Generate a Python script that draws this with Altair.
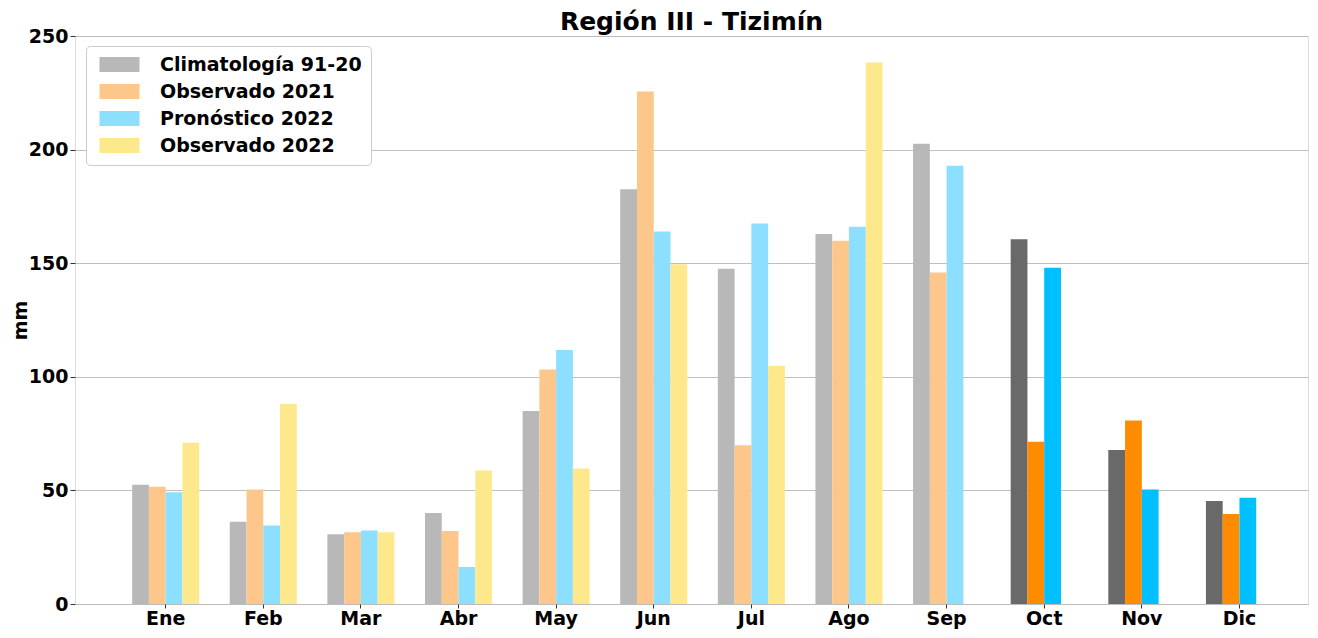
import altair as alt
import pandas as pd

meses = ["Ene", "Feb", "Mar", "Abr", "May", "Jun", "Jul", "Ago", "Sep", "Oct", "Nov", "Dic"]
series = ["Climatología 91-20", "Observado 2021", "Pronóstico 2022", "Observado 2022"]
titulo = "Región III - Tizimín"

climatologia = [52.5, 36.2, 30.7, 40.1, 85.0, 182.5, 147.6, 162.9, 202.6, 160.5, 67.8, 45.3]
observado_2021 = [51.6, 50.4, 31.6, 32.1, 103.2, 225.6, 69.9, 159.9, 145.9, 71.4, 80.8, 39.6]
pronostico_2022 = [49.2, 34.5, 32.4, 16.3, 111.8, 164.0, 167.5, 166.0, 192.9, 148.0, 50.4, 46.8]
observado_2022 = [71.0, 88.1, 31.6, 58.8, 59.6, 149.5, 104.9, 238.3]  # Ene-Ago

colores_claros = ["#b8b8b8", "#fdc68b", "#8cdfff", "#fde98c"]
colores_intensos = ["#696969", "#ff8c00", "#00bfff"]

rows = []
for s, vals in zip(series, [climatologia, observado_2021, pronostico_2022, observado_2022]):
    for i, v in enumerate(vals):
        clave = s if i < 9 else s + " (oct-dic)"
        rows.append(dict(mes=meses[i], serie=s, valor=v, clave=clave))
df = pd.DataFrame(rows)

dominio = series + [s + " (oct-dic)" for s in series[:3]]
rango = colores_claros + colores_intensos

FONT = "DejaVu Sans"
PLOT_W = 1233
PLOT_H = 568

bars = alt.Chart(df).mark_bar().encode(
    x=alt.X(
        "mes:N",
        sort=meses,
        scale=alt.Scale(domain=meses, paddingInner=0.313, paddingOuter=0.472, align=0.62),
        axis=alt.Axis(
            title=None, labelAngle=0, labelFont=FONT, labelFontSize=19,
            labelFontWeight="bold", labelColor="black", tickSize=4,
            tickColor="#333333", labelPadding=1, domain=False, grid=False,
        ),
    ),
    xOffset=alt.XOffset(
        "serie:N", sort=series,
        scale=alt.Scale(domain=series, paddingInner=0, paddingOuter=0),
    ),
    y=alt.Y(
        "valor:Q",
        scale=alt.Scale(domain=[0, 250], nice=False),
        axis=alt.Axis(
            values=[0, 50, 100, 150, 200, 250], title="mm",
            labelFont=FONT, labelFontSize=19, labelFontWeight="bold",
            labelColor="black", tickSize=5, tickColor="#333333", labelPadding=2,
            grid=True, gridColor="#b8b8b8", gridWidth=0.9, domain=False,
            titleFont=FONT, titleFontSize=19, titleFontWeight="bold",
            titleColor="black", titleAngle=-90, titleX=-55, titleY=PLOT_H / 2,
            titleAlign="center", titleBaseline="middle",
        ),
    ),
    color=alt.Color(
        "clave:N",
        scale=alt.Scale(domain=dominio, range=rango),
        legend=alt.Legend(
            values=series, title=None, orient="none", legendX=11, legendY=10,
            symbolType="M-1,-1.5H7V1.5H-1Z", symbolSize=100, symbolStrokeWidth=0,
            labelOffset=46, labelFont=FONT, labelFontSize=19, labelFontWeight="bold",
            labelColor="black", padding=9, rowPadding=7, fillColor="white",
            strokeColor="#cccccc", cornerRadius=4, labelLimit=400,
        ),
    ),
)

title_mark = alt.Chart(pd.DataFrame({"t": [titulo]})).mark_text(
    font=FONT, fontSize=25, fontWeight="bold", color="black",
    align="center", baseline="alphabetic",
).encode(
    text="t:N",
    x=alt.value(PLOT_W / 2),
    y=alt.value(-6),
)

chart = alt.layer(bars, title_mark).properties(
    width=PLOT_W,
    height=PLOT_H,
    autosize="none",
    padding={"left": 67, "top": 28, "right": 2, "bottom": 26},
).configure_view(
    stroke="#333333", strokeWidth=1
).configure(background="white")

chart.save("out.html", embed_options={"renderer": "svg", "actions": False})
